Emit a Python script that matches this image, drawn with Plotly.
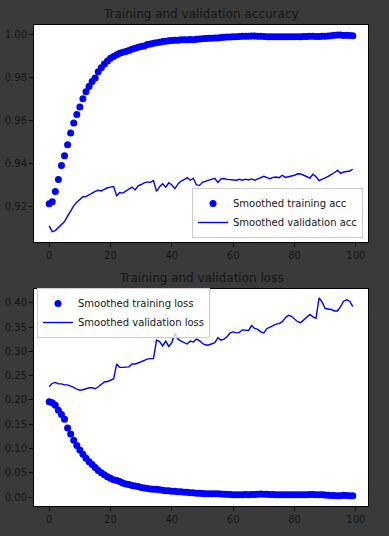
import plotly.graph_objects as go

epochs = list(range(100))

train_acc = [
    0.9213, 0.9222, 0.9270, 0.9325, 0.9390, 0.9436, 0.9487, 0.9541, 0.9588, 0.9627,
    0.9662, 0.9700, 0.9733, 0.9757, 0.9780, 0.9797, 0.9826, 0.9845, 0.9862, 0.9876,
    0.9888, 0.9897, 0.9905, 0.9912, 0.9916, 0.9920, 0.9925, 0.9930, 0.9935, 0.9940,
    0.9943, 0.9946, 0.9952, 0.9955, 0.9958, 0.9960, 0.9963, 0.9966, 0.9968, 0.9970,
    0.9971, 0.9972, 0.9972, 0.9974, 0.9974, 0.9975, 0.9976, 0.9975, 0.9977, 0.9978,
    0.9979, 0.9980, 0.9982, 0.9982, 0.9983, 0.9983, 0.9985, 0.9986, 0.9987, 0.9987,
    0.9988, 0.9989, 0.9990, 0.9991, 0.9991, 0.9991, 0.9992, 0.9992, 0.9991, 0.9991,
    0.9990, 0.9989, 0.9989, 0.9989, 0.9989, 0.9989, 0.9989, 0.9989, 0.9988, 0.9989,
    0.9989, 0.9989, 0.9989, 0.9990, 0.9990, 0.9991, 0.9991, 0.9990, 0.9990, 0.9991,
    0.9991, 0.9992, 0.9993, 0.9995, 0.9996, 0.9996, 0.9994, 0.9995, 0.9994, 0.9993,
]

val_acc = [
    0.9110, 0.9083, 0.9088, 0.9103, 0.9115, 0.9130, 0.9155, 0.9182, 0.9203, 0.9220,
    0.9232, 0.9245, 0.9246, 0.9255, 0.9262, 0.9270, 0.9275, 0.9272, 0.9280, 0.9287,
    0.9290, 0.9293, 0.9250, 0.9265, 0.9262, 0.9272, 0.9282, 0.9290, 0.9277, 0.9296,
    0.9302, 0.9310, 0.9314, 0.9312, 0.9320, 0.9270, 0.9292, 0.9306, 0.9290, 0.9310,
    0.9300, 0.9283, 0.9305, 0.9318, 0.9325, 0.9334, 0.9322, 0.9331, 0.9300, 0.9298,
    0.9312, 0.9318, 0.9322, 0.9327, 0.9330, 0.9312, 0.9328, 0.9330, 0.9326, 0.9325,
    0.9326, 0.9322, 0.9326, 0.9322, 0.9327, 0.9323, 0.9328, 0.9322, 0.9328, 0.9335,
    0.9340, 0.9334, 0.9329, 0.9335, 0.9337, 0.9334, 0.9345, 0.9335, 0.9338, 0.9340,
    0.9345, 0.9352, 0.9351, 0.9345, 0.9340, 0.9332, 0.9350, 0.9338, 0.9320, 0.9328,
    0.9333, 0.9340, 0.9348, 0.9358, 0.9368, 0.9354, 0.9360, 0.9364, 0.9365, 0.9373,
]

train_loss = [
    0.196, 0.194, 0.189, 0.179, 0.170, 0.160, 0.142, 0.130, 0.117, 0.106,
    0.097, 0.088, 0.080, 0.073, 0.067, 0.061, 0.055, 0.050, 0.046, 0.042,
    0.039, 0.036, 0.034, 0.032, 0.029, 0.027, 0.026, 0.024, 0.023, 0.022,
    0.020, 0.019, 0.018, 0.017, 0.016, 0.016, 0.015, 0.014, 0.013, 0.013,
    0.012, 0.012, 0.011, 0.011, 0.010, 0.010, 0.009, 0.009, 0.008, 0.008,
    0.0075, 0.0070, 0.0070, 0.0070, 0.0068, 0.0068, 0.0065, 0.0060, 0.0058, 0.0055,
    0.0050, 0.0050, 0.0050, 0.0050, 0.0052, 0.0050, 0.0052, 0.0055, 0.0060, 0.0065,
    0.0062, 0.0058, 0.0055, 0.0052, 0.0050, 0.0050, 0.0050, 0.0050, 0.0050, 0.0050,
    0.0050, 0.0050, 0.0050, 0.0050, 0.0050, 0.0052, 0.0052, 0.0050, 0.0050, 0.0050,
    0.0045, 0.0040, 0.0035, 0.0032, 0.0030, 0.0030, 0.0040, 0.0035, 0.0030, 0.0030,
]

val_loss = [
    0.227, 0.234, 0.236, 0.233, 0.233, 0.231, 0.231, 0.229, 0.226, 0.222,
    0.220, 0.221, 0.223, 0.225, 0.225, 0.223, 0.227, 0.233, 0.237, 0.238,
    0.241, 0.243, 0.274, 0.267, 0.267, 0.267, 0.268, 0.274, 0.274, 0.276,
    0.279, 0.282, 0.284, 0.285, 0.285, 0.323, 0.320, 0.311, 0.321, 0.310,
    0.318, 0.337, 0.325, 0.321, 0.318, 0.315, 0.321, 0.319, 0.325, 0.322,
    0.316, 0.313, 0.313, 0.315, 0.318, 0.328, 0.323, 0.325, 0.330, 0.338,
    0.340, 0.338, 0.339, 0.344, 0.344, 0.343, 0.353, 0.347, 0.345, 0.340,
    0.338, 0.347, 0.350, 0.353, 0.356, 0.357, 0.361, 0.369, 0.374, 0.372,
    0.367, 0.361, 0.359, 0.365, 0.369, 0.376, 0.371, 0.368, 0.410, 0.401,
    0.388, 0.387, 0.386, 0.383, 0.383, 0.392, 0.403, 0.406, 0.403, 0.392,
]

acc_ticks = [0.92, 0.94, 0.96, 0.98, 1.00]
loss_ticks = [0.00, 0.05, 0.10, 0.15, 0.20, 0.25, 0.30, 0.35, 0.40]
x_ticks = [0, 20, 40, 60, 80, 100]

W, H = 389, 536
BG = "#3a3a3a"
TXT = "#161616"
FONT = "DejaVu Sans"

fig = go.Figure()
fig.add_trace(go.Scatter(x=epochs, y=train_acc, mode="markers", name="Smoothed training acc",
                         marker=dict(color="#0000ff", size=7), xaxis="x", yaxis="y", legend="legend"))
fig.add_trace(go.Scatter(x=epochs, y=val_acc, mode="lines", name="Smoothed validation acc",
                         line=dict(color="#0000ff", width=1.4), xaxis="x", yaxis="y", legend="legend"))
fig.add_trace(go.Scatter(x=epochs, y=train_loss, mode="markers", name="Smoothed training loss",
                         marker=dict(color="#0000ff", size=7), xaxis="x2", yaxis="y2", legend="legend2"))
fig.add_trace(go.Scatter(x=epochs, y=val_loss, mode="lines", name="Smoothed validation loss",
                         line=dict(color="#0000ff", width=1.4), xaxis="x2", yaxis="y2", legend="legend2"))

xdom = [34 / W, 368 / W]
top_dom = [1 - 242 / H, 1 - 25 / H]
bot_dom = [1 - 506 / H, 1 - 288.7 / H]

axis_common = dict(showline=True, linecolor="black", linewidth=1, mirror=True,
                   ticks="outside", ticklen=4, tickcolor="black", showgrid=False,
                   zeroline=False, tickfont=dict(family=FONT, size=10, color=TXT))

fig.update_layout(
    width=W, height=H,
    margin=dict(l=0, r=0, t=0, b=0),
    paper_bgcolor=BG, plot_bgcolor="white",
    font=dict(family=FONT, size=10, color=TXT),
    xaxis=dict(domain=xdom, anchor="y", range=[-4.95, 103.95], tickvals=x_ticks, **axis_common),
    yaxis=dict(domain=top_dom, anchor="x", range=[0.9035, 1.0043], tickvals=acc_ticks,
               tickformat=".2f", **axis_common),
    xaxis2=dict(domain=xdom, anchor="y2", range=[-4.95, 103.95], tickvals=x_ticks, **axis_common),
    yaxis2=dict(domain=bot_dom, anchor="x2", range=[-0.0182, 0.4288], tickvals=loss_ticks,
                tickformat=".2f", **axis_common),
    legend=dict(x=363 / W, y=1 - 238 / H, xanchor="right", yanchor="bottom",
                bgcolor="rgba(255,255,255,0.8)", bordercolor="#cccccc", borderwidth=1,
                font=dict(family=FONT, size=10, color=TXT), tracegroupgap=0, itemwidth=30),
    legend2=dict(x=37 / W, y=1 - 288 / H, xanchor="left", yanchor="top",
                 bgcolor="rgba(255,255,255,0.8)", bordercolor="#cccccc", borderwidth=1,
                 font=dict(family=FONT, size=10, color=TXT), tracegroupgap=0, itemwidth=30),
    showlegend=True,
    annotations=[
        dict(text="Training and validation accuracy", x=201 / W, y=1 - 14 / H, xref="paper",
             yref="paper", showarrow=False, xanchor="center", yanchor="middle",
             font=dict(family=FONT, size=12, color=TXT)),
        dict(text="Training and validation loss", x=201 / W, y=1 - 278 / H, xref="paper",
             yref="paper", showarrow=False, xanchor="center", yanchor="middle",
             font=dict(family=FONT, size=12, color=TXT)),
    ],
)

fig.write_html("out.html", config={"displayModeBar": False},
               post_script="document.body.style.margin='0';document.body.style.background='%s';" % BG)
